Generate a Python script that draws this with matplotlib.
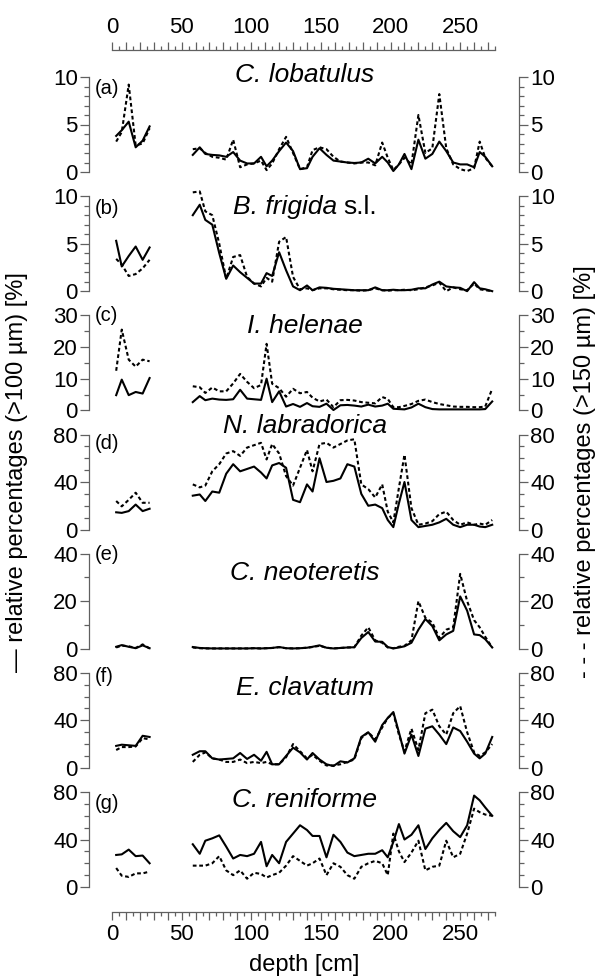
import matplotlib
matplotlib.use("Agg")
import matplotlib.pyplot as plt
from matplotlib.ticker import MultipleLocator, FixedLocator, FuncFormatter
from matplotlib.offsetbox import TextArea, HPacker, AnnotationBbox

plt.rcParams['font.family'] = ['Liberation Sans', 'DejaVu Sans']

# ---------------------------------------------------------------- data
# sample depths (cm): short upper core and main core
depth_upper = [3, 7, 12, 17, 22, 27]
depth_main = [58, 63, 67, 72, 77, 82, 87, 92, 97, 102, 107, 111, 115, 120, 125,
              130, 135, 140, 144, 149, 154, 159, 164, 169, 174, 179, 184, 189,
              194, 198, 202, 206, 210, 215, 220, 225, 230, 235, 240, 245, 250,
              255, 260, 264, 268, 273]

# C. lobatulus
lob_100_upper = [3.8, 4.4, 5.3, 2.6, 3.3, 4.8]
lob_150_upper = [3.2, 4.2, 9.2, 2.8, 3.0, 4.6]
lob_100_main = [1.8, 2.6, 1.9, 1.8, 1.75, 1.6, 2.1, 1.2, 0.9, 0.9,
                1.6, 0.6, 1.2, 2.2, 3.1, 2.2, 0.3, 0.4, 1.6, 2.5,
                1.8, 1.2, 1.1, 1.0, 0.95, 1.0, 1.4, 0.9, 1.6, 1.0,
                0.1, 0.8, 1.9, 0.3, 3.4, 1.4, 1.9, 3.2, 2.2, 1.0,
                0.8, 0.8, 0.5, 2.1, 1.6, 0.6]
lob_150_main = [2.4, 2.5, 2.0, 1.6, 1.5, 1.3, 3.4, 0.5, 0.8, 0.9,
                1.2, 0.2, 0.9, 2.4, 3.7, 2.0, 0.3, 0.5, 2.3, 2.6,
                2.4, 1.6, 1.1, 1.0, 0.9, 1.0, 1.0, 0.7, 3.1, 1.5,
                0.2, 0.8, 1.5, 0.8, 6.0, 2.0, 2.5, 8.2, 2.5, 0.8,
                0.3, 0.1, 0.4, 3.2, 1.5, 0.6]

# B. frigida s.l.
fri_100_upper = [5.3, 2.6, 3.7, 4.7, 3.3, 4.6]
fri_150_upper = [3.4, 2.8, 1.6, 1.8, 2.4, 3.3]
fri_100_main = [8.0, 9.1, 7.5, 7.0, 4.0, 1.3, 2.7, 2.0, 1.4, 0.8,
                0.8, 1.9, 1.6, 4.1, 2.2, 0.5, 0.1, 0.6, 0.1, 0.4,
                0.35, 0.25, 0.2, 0.15, 0.1, 0.1, 0.1, 0.4, 0.1, 0.1,
                0.15, 0.1, 0.1, 0.15, 0.3, 0.3, 0.7, 1.0, 0.5, 0.4,
                0.35, 0.0, 0.95, 0.3, 0.2, 0.0]
fri_150_main = [10.4, 10.5, 8.4, 8.0, 5.0, 1.3, 3.6, 3.8, 1.5, 0.8,
                0.5, 1.4, 1.0, 5.2, 5.7, 1.5, 0.2, 0.3, 0.1, 0.3,
                0.3, 0.2, 0.15, 0.1, 0.1, 0.05, 0.1, 0.3, 0.1, 0.05,
                0.1, 0.1, 0.15, 0.1, 0.2, 0.4, 0.6, 0.9, 0.0, 0.4,
                0.2, 0.1, 0.8, 0.2, 0.1, 0.0]

# I. helenae
hel_100_upper = [4.8, 9.7, 4.8, 5.8, 5.3, 10.2]
hel_150_upper = [12.5, 25.5, 16.0, 13.8, 16.0, 15.5]
hel_100_main = [2.6, 4.5, 3.2, 3.7, 3.4, 3.3, 3.5, 6.5, 3.7, 3.5,
                3.3, 10.0, 2.6, 6.0, 1.2, 2.0, 1.1, 2.3, 1.3, 1.1,
                2.1, 0.1, 1.6, 1.7, 1.5, 1.2, 1.8, 1.2, 1.5, 2.1,
                0.5, 0.4, 0.3, 0.9, 2.1, 1.0, 0.4, 0.3, 0.3, 0.3,
                0.3, 0.3, 0.3, 0.3, 0.4, 2.8]
hel_150_main = [7.6, 7.3, 5.5, 7.2, 6.0, 6.0, 8.5, 11.5, 9.0, 7.0,
                8.0, 21.0, 8.4, 7.0, 4.3, 6.8, 5.4, 5.8, 4.0, 2.8,
                3.4, 1.0, 3.2, 3.3, 3.1, 2.6, 2.4, 2.2, 4.2, 3.6,
                1.0, 1.0, 1.4, 2.0, 3.0, 3.4, 2.6, 2.0, 1.6, 1.2,
                1.1, 1.1, 1.0, 1.0, 1.2, 6.8]

# N. labradorica
lab_100_upper = [14.5, 14.0, 15.5, 21.0, 15.5, 17.5]
lab_150_upper = [24.0, 19.5, 25.0, 31.0, 22.5, 22.5]
lab_100_main = [28.5, 29.5, 24, 32, 31, 47, 55, 49, 51, 53,
                48, 43, 54, 56, 52, 25, 23, 38, 32, 60,
                40, 41, 43, 55, 53, 30, 20, 21, 18, 8,
                2, 22, 40, 8, 2, 3, 4, 6, 9, 4,
                2, 4, 4, 2.5, 2, 4]
lab_150_main = [38, 35.5, 37, 49, 55, 64, 66, 62, 69, 71,
                73, 59, 72, 64, 45, 37, 52, 67, 49, 72,
                73, 69, 72, 75, 76, 38, 34, 27, 38, 15,
                6, 35, 63, 18, 4, 5, 7, 13, 15, 8,
                4, 6, 4, 5, 4, 8]

# C. neoteretis
neo_100_upper = [0.8, 1.5, 0.8, 0.2, 1.4, 0.2]
neo_150_upper = [0.5, 1.3, 1.0, 0.3, 1.8, 0.1]
neo_100_main = [0.7, 0.3, 0.2, 0.1, 0.1, 0.1, 0.1, 0.1, 0.1, 0.2,
                0.1, 0.2, 0.3, 0.7, 0.2, 0.1, 0.2, 0.4, 0.8, 1.4,
                0.4, 0.1, 0.3, 0.5, 0.6, 4.5, 7.0, 3.0, 2.9, 0.7,
                0.1, 0.5, 1.0, 2.5, 8.0, 12.5, 9.5, 3.5, 6.0, 7.5,
                22.0, 16.0, 6.0, 5.7, 4.0, 0.5]
neo_150_main = [0.5, 0.2, 0.1, 0.1, 0.1, 0.1, 0.1, 0.1, 0.1, 0.2,
                0.1, 0.2, 0.3, 0.6, 0.2, 0.1, 0.2, 0.4, 0.7, 1.2,
                0.4, 0.1, 0.3, 0.5, 0.6, 5.5, 9.0, 3.5, 2.5, 0.5,
                0.2, 0.8, 1.2, 3.5, 20.0, 13.0, 11.0, 4.5, 8.0, 9.0,
                31.5, 20.0, 12.0, 9.0, 5.0, 0.5]

# E. clavatum
cla_100_upper = [18.5, 19.5, 19.0, 18.5, 27.0, 26.0]
cla_150_upper = [15.0, 17.5, 17.5, 18.0, 25.0, 24.0]
cla_100_main = [11, 14, 14, 8, 7, 7.5, 8, 12.5, 7.5, 11,
                6, 13.5, 3, 3, 10, 17, 13, 7, 12.5, 7,
                3, 1.5, 5.5, 4.5, 8, 26, 30, 22, 36, 42,
                47, 30, 12, 28, 10, 33, 35, 28, 20, 34,
                31, 22, 12, 8, 12, 26]
cla_150_main = [5, 11, 13, 8, 7, 5, 5, 7, 4, 5,
                4, 5, 3, 3, 9, 20, 14, 8, 11, 6,
                2, 2, 3, 5, 7, 25, 30, 24, 34, 42,
                46, 28, 14, 33, 15, 46, 49, 35, 28, 46,
                52, 30, 13, 10, 13, 20]

# C. reniforme
ren_100_upper = [27.0, 27.5, 31.5, 26.0, 26.5, 20.0]
ren_150_upper = [16.0, 9.5, 8.5, 11.5, 11.5, 13.0]
ren_100_main = [36, 28, 39, 41, 43.5, 34, 24, 27, 26, 28,
                38, 17.5, 27, 20, 38, 45, 52, 48, 43, 43,
                25, 44, 38, 29, 26, 27, 28, 28, 31, 25,
                38, 53, 40, 44, 52, 32, 41, 48, 54, 47,
                42, 52, 77, 73, 67, 60]
ren_150_main = [18, 18, 18, 20, 26, 14, 10, 14, 7, 12,
                11, 8, 10, 12, 18, 26, 22, 18, 20, 24,
                10, 20, 17, 10, 7, 17, 20, 22, 20, 10,
                45, 30, 21, 29, 39, 14, 17, 18, 39, 25,
                28, 45, 66, 63, 61, 60]

panel_tags = ['(a)', '(b)', '(c)', '(d)', '(e)', '(f)', '(g)']
# italic species name, upright suffix
species = [('C. lobatulus', ''), ('B. frigida', 's.l.'), ('I. helenae', ''),
           ('N. labradorica', ''), ('C. neoteretis', ''), ('E. clavatum', ''),
           ('C. reniforme', '')]
y_max = [10, 10, 30, 80, 40, 80, 80]
y_major = [5, 5, 10, 40, 20, 40, 40]
y_minor = [1, 1, 5, 10, 10, 10, 10]
depth_max = 275
depth_labels = [0, 50, 100, 150, 200, 250]

series = [
    (lob_100_upper, lob_150_upper, lob_100_main, lob_150_main),
    (fri_100_upper, fri_150_upper, fri_100_main, fri_150_main),
    (hel_100_upper, hel_150_upper, hel_100_main, hel_150_main),
    (lab_100_upper, lab_150_upper, lab_100_main, lab_150_main),
    (neo_100_upper, neo_150_upper, neo_100_main, neo_150_main),
    (cla_100_upper, cla_150_upper, cla_100_main, cla_150_main),
    (ren_100_upper, ren_150_upper, ren_100_main, ren_150_main),
]

# ---------------------------------------------------------------- layout
W, H = 600, 977
fig = plt.figure(figsize=(W / 100, H / 100), dpi=100)


def fx(px):
    return px / W


def fy(py):
    return 1 - py / H


X0, X1 = 112, 495          # depth 0 and depth_max
SPL, SPR = 89, 519         # left / right y spines
xscale = (X1 - X0) / depth_max
XLIM = (-(X0 - SPL) / xscale, depth_max + (SPR - X1) / xscale)

TOP0, PITCH, PH = 77, 119.17, 95
title_dy = [-2, 11, 11, -9, 19, 15, 8]
tag_dy = [11, 12, 0, 9, 1, 4, 11]

SPINE = '#606060'
LW = 1.5
DOTS = (0, (1.8, 1.3))
TITLE_SIZE = 19

for i in range(7):
    top_px = TOP0 + PITCH * i
    ax = fig.add_axes([fx(SPL), fy(top_px + PH), fx(SPR) - fx(SPL), PH / H])
    ax.patch.set_visible(False)
    ax.set_xlim(*XLIM)
    ax.set_ylim(0, y_max[i])
    for s in ('top', 'bottom'):
        ax.spines[s].set_visible(False)
    for s in ('left', 'right'):
        ax.spines[s].set_color(SPINE)
        ax.spines[s].set_linewidth(0.9)
    ax.set_xticks([])
    ax.yaxis.set_major_locator(MultipleLocator(y_major[i]))
    ax.yaxis.set_minor_locator(MultipleLocator(y_minor[i]))
    ax.tick_params(axis='y', which='both', direction='out', left=True, right=True,
                   labelleft=True, labelright=True, color=SPINE, width=0.9,
                   labelsize=16, pad=1.5)
    ax.tick_params(axis='y', which='major', length=6.5)
    ax.tick_params(axis='y', which='minor', length=3.6)

    up100, up150, main100, main150 = series[i]
    ax.plot(depth_upper, up100, color='black', lw=LW, clip_on=False)
    ax.plot(depth_upper, up150, color='black', lw=LW, ls=DOTS, clip_on=False)
    ax.plot(depth_main, main100, color='black', lw=LW, clip_on=False)
    ax.plot(depth_main, main150, color='black', lw=LW, ls=DOTS, clip_on=False)

    name, suffix = species[i]
    parts = [TextArea(name, textprops=dict(fontsize=TITLE_SIZE, style='italic'))]
    if suffix:
        parts.append(TextArea(suffix, textprops=dict(fontsize=TITLE_SIZE)))
    box = HPacker(children=parts, pad=0, sep=5, align='baseline')
    fig.add_artist(AnnotationBbox(box, (fx(305), fy(top_px + title_dy[i])),
                                  xycoords='figure fraction', frameon=False,
                                  box_alignment=(0.5, 0.5), pad=0))
    fig.text(fx(95), fy(top_px + tag_dy[i]), panel_tags[i], ha='left',
             va='center', fontsize=14.5)


def depth_axis(y_px, side):
    if side == 'top':
        rect = [fx(SPL), fy(y_px) - 0.002, fx(SPR) - fx(SPL), 0.002]
    else:
        rect = [fx(SPL), fy(y_px), fx(SPR) - fx(SPL), 0.002]
    axd = fig.add_axes(rect)
    axd.patch.set_visible(False)
    axd.set_xlim(*XLIM)
    axd.set_yticks([])
    for s in ('left', 'right', 'top', 'bottom'):
        axd.spines[s].set_visible(s == side)
    axd.spines[side].set_bounds(0, depth_max)
    axd.spines[side].set_color(SPINE)
    axd.spines[side].set_linewidth(0.9)
    axd.xaxis.set_major_locator(FixedLocator(list(range(0, depth_max + 1, 10))))
    axd.xaxis.set_minor_locator(FixedLocator(list(range(5, depth_max + 1, 10))))
    axd.xaxis.set_major_formatter(
        FuncFormatter(lambda v, p: f'{int(round(v))}' if int(round(v)) in depth_labels else ''))
    if side == 'top':
        axd.xaxis.tick_top()
    else:
        axd.xaxis.tick_bottom()
    axd.tick_params(axis='x', which='both', direction='out', color=SPINE,
                    width=0.9, labelsize=16, pad=3)
    axd.tick_params(axis='x', which='major', length=5.8)
    axd.tick_params(axis='x', which='minor', length=2.9)
    return axd


depth_axis(50, 'top')
depth_axis(912, 'bottom')

fig.text(fx(304), fy(965), 'depth [cm]', ha='center', va='center', fontsize=17)
fig.text(fx(17), fy(472), '— relative percentages (>100 µm) [%]', rotation=90,
         ha='center', va='center', fontsize=17)
fig.text(fx(585), fy(472), '- - - relative percentages (>150 µm) [%]', rotation=90,
         ha='center', va='center', fontsize=17)

fig.savefig('out.png', dpi=100)
